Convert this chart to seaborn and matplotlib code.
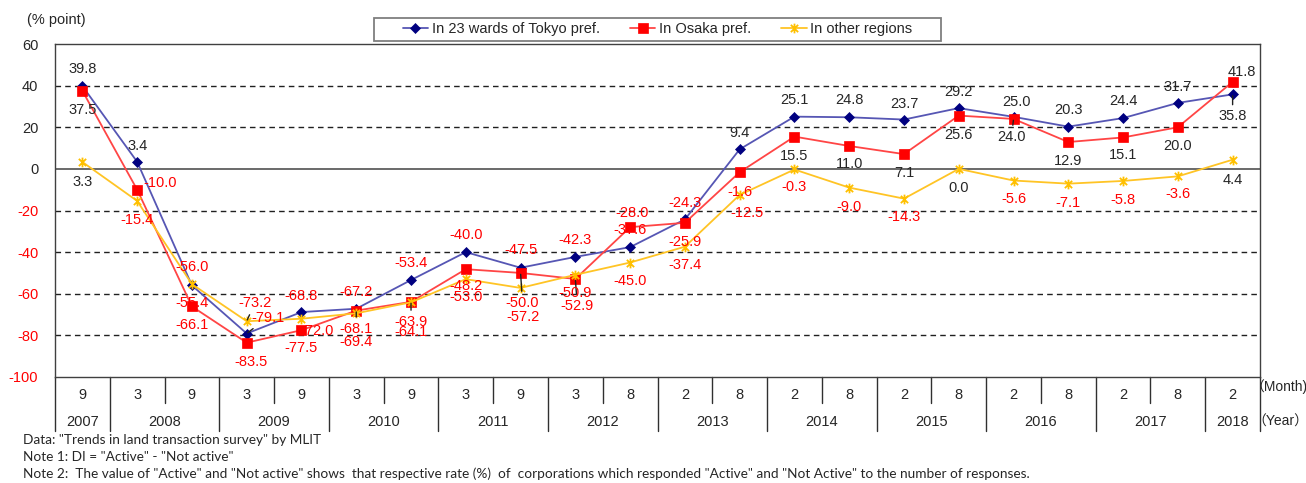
import numpy as np
import pandas as pd
import matplotlib
matplotlib.use('Agg')
import matplotlib.pyplot as plt
import seaborn as sns
from matplotlib.path import Path
from matplotlib.patches import Rectangle

# ---------------- data ----------------
months = ['9', '3', '9', '3', '9', '3', '9', '3', '9', '3', '8',
          '2', '8', '2', '8', '2', '8', '2', '8', '2', '8', '2']
years = ['2007', '2008', '2009', '2010', '2011', '2012',
         '2013', '2014', '2015', '2016', '2017', '2018']
year_spans = [1, 2, 2, 2, 2, 2, 2, 2, 2, 2, 2, 1]
series_names = ['In 23 wards of Tokyo pref.', 'In Osaka pref.', 'In other regions']
tokyo = [39.8, 3.4, -56.0, -79.1, -68.8, -67.2, -53.4, -40.0, -47.5, -42.3, -37.6,
         -24.3, 9.4, 25.1, 24.8, 23.7, 29.2, 25.0, 20.3, 24.4, 31.7, 35.8]
osaka = [37.5, -10.0, -66.1, -83.5, -77.5, -68.1, -63.9, -48.2, -50.0, -52.9, -28.0,
         -25.9, -1.6, 15.5, 11.0, 7.1, 25.6, 24.0, 12.9, 15.1, 20.0, 41.8]
other = [3.3, -15.4, -55.4, -73.2, -72.0, -69.4, -64.1, -53.0, -57.2, -50.9, -45.0,
         -37.4, -12.5, -0.3, -9.0, -14.3, 0.0, -5.6, -7.1, -5.8, -3.6, 4.4]
yticks = [-100, -80, -60, -40, -20, 0, 20, 40, 60]

# label placement (pixel offsets, +dy = downward)
tokyo_off = [(0, -17), (0, -16), (0, -18), (21, -16), (0, -16), (0, -17), (0, -17), (0, -17),
             (0, -18), (0, -17), (0, -17), (0, -16), (0, -16), (0, -17), (0, -17), (0, -16),
             (0, -16), (3, -15), (0, -17), (0, -17), (0, -16), (0, 22)]
osaka_off = [(0, 19), (23, -7), (0, 19), (4, 19), (0, 18), (0, 18), (0, 20), (0, 17),
             (2, 30), (2, 27), (2, -14), (0, 19), (0, 20), (0, 19), (0, 18), (0, 19),
             (0, 19), (-2, 18), (0, 19), (0, 18), (0, 19), (9, -10)]
other_off = [(0, 20), (0, 19), (0, 19), (8, -18), (16, 12), (0, 29), (0, 30), (0, 18),
             (2, 29), (0, 18), (0, 18), (0, 18), (7, 18), (0, 18), (0, 19), (0, 18),
             (0, 19), (0, 18), (0, 19), (0, 19), (0, 18), (0, 20)]
leaders = {0: [3, 21], 1: [5, 6, 8, 9, 17], 2: [3]}

# ---------------- style ----------------
sns.set_style('white')
plt.rcParams['font.family'] = ['Liberation Sans', 'DejaVu Sans']

W, H = 1306, 483
fig = plt.figure(figsize=(W / 100, H / 100), dpi=100)
L, R, T, B = 55, 1260, 44, 377
ax = fig.add_axes([L / W, 1 - B / H, (R - L) / W, (B - T) / H])

df = pd.DataFrame({
    'pos': np.tile(np.arange(len(months)), 3),
    'value': tokyo + osaka + other,
    'series': np.repeat(series_names, len(months)),
})

star = Path([(0, -1), (0, 1), (-0.75, -0.75), (0.75, 0.75), (-0.75, 0.75), (0.75, -0.75)],
            [Path.MOVETO, Path.LINETO, Path.MOVETO, Path.LINETO, Path.MOVETO, Path.LINETO])

styles = [
    dict(color='#5656B4', marker='D', markersize=5.5, mfc='#000080', mec='#000080', mew=0.5),
    dict(color='#FF4545', marker='s', markersize=7.5, mfc='#FF0000', mec='#FF0000', mew=0.5),
    dict(color='#FFC425', marker=star, markersize=7, mfc='#FFC000', mec='#FFC000', mew=1.3),
]

for name, st in zip(series_names, styles):
    sub = df[df['series'] == name]
    sns.lineplot(data=sub, x='pos', y='value', ax=ax, label=name, color=st['color'],
                 linewidth=1.3, marker=st['marker'], markersize=st['markersize'],
                 markerfacecolor=st['mfc'], markeredgecolor=st['mec'],
                 markeredgewidth=st['mew'], zorder=3)

# ---------------- axes ----------------
ax.set_xlim(-0.5, len(months) - 0.5)
ax.set_ylim(-100, 60)
ax.set_yticks(yticks)
ax.set_yticklabels([str(v) for v in yticks], fontsize=10.5)
for lab, v in zip(ax.get_yticklabels(), yticks):
    lab.set_color('#FF0000' if v < 0 else '#262626')
ax.tick_params(axis='y', length=0, pad=12)
ax.set_xticks([])
ax.set_xlabel('')
ax.set_ylabel('')
for s in ax.spines.values():
    s.set_color('#404040')
    s.set_linewidth(1.0)

for v in yticks:
    if v in (-100, 60):
        continue
    if v == 0:
        ax.axhline(v, color='#505050', lw=1.2, zorder=1)
    else:
        ax.axhline(v, color='#202020', lw=1.0, ls=(0, (4, 3)), zorder=1)

# ---------------- data labels ----------------
for si, (vals, offs) in enumerate(zip([tokyo, osaka, other], [tokyo_off, osaka_off, other_off])):
    for i, (v, (dx, dy)) in enumerate(zip(vals, offs)):
        col = '#FF0000' if v < 0 else '#262626'
        kw = {}
        if i in leaders[si]:
            kw['arrowprops'] = dict(arrowstyle='-', color='#202020', lw=1.0,
                                    shrinkA=1, shrinkB=1)
        ax.annotate(f'{v:.1f}', xy=(i, v), xytext=(dx, -dy), textcoords='offset pixels',
                    ha='center', va='center', fontsize=10.5, color=col, zorder=5, **kw)

# ---------------- category table ----------------
xt = ax.get_xaxis_transform()
def ay(px):
    return (B - px) / (B - T)

for i, m in enumerate(months):
    ax.text(i, ay(395), m, transform=xt, ha='center', va='center', fontsize=10.5,
            color='#262626', clip_on=False)
bounds = np.concatenate([[0], np.cumsum(year_spans)]) - 0.5
for y, s0, s1 in zip(years, bounds[:-1], bounds[1:]):
    ax.text((s0 + s1) / 2, ay(422), y, transform=xt, ha='center', va='center',
            fontsize=10.5, color='#262626', clip_on=False)
for b in np.arange(-0.5, len(months)):
    full = np.any(np.isclose(bounds, b))
    ax.plot([b, b], [0, ay(431 if full else 403)], transform=xt, color='#303030',
            lw=1.0, clip_on=False)

cjk = ['Liberation Sans', 'Noto Sans CJK JP']
fig.text(1250 / W, 1 - 387 / H, '（Month)', family=cjk, fontsize=10, ha='left',
         va='center', color='#262626')
fig.text(1252 / W, 1 - 422 / H, '（Year）', family=cjk, fontsize=10, ha='left',
         va='center', color='#262626')

fig.text(27 / W, 1 - 20 / H, '(% point)', fontsize=10.5, ha='left', va='center',
         color='#262626')

# ---------------- legend ----------------
leg = ax.legend(loc='center', bbox_to_anchor=(657.5 / W, 1 - 29.5 / H),
                bbox_transform=fig.transFigure, ncol=3, frameon=False,
                fontsize=10.5, handlelength=1.75, handletextpad=0.25,
                columnspacing=2.05, borderpad=0.2, borderaxespad=0)
fig.patches.append(Rectangle((374 / W, 1 - 41 / H), (941 - 374) / W, 23 / H,
                             transform=fig.transFigure, fill=False,
                             edgecolor='#7F7F7F', lw=1.3, zorder=0))

# ---------------- notes ----------------
notes = ['Data: "Trends in land transaction survey" by MLIT',
         'Note 1: DI = "Active" - "Not active"',
         'Note 2:  The value of "Active" and "Not active" shows  that respective rate (%)  of  '
         'corporations which responded "Active" and "Not Active" to the number of responses.']
for k, t in enumerate(notes):
    fig.text(23 / W, 1 - (440 + 17 * k) / H, t, family=['Lato', 'DejaVu Sans'],
             fontsize=9.8, ha='left', va='center', color='#262626')

fig.savefig('out.png', dpi=100)
